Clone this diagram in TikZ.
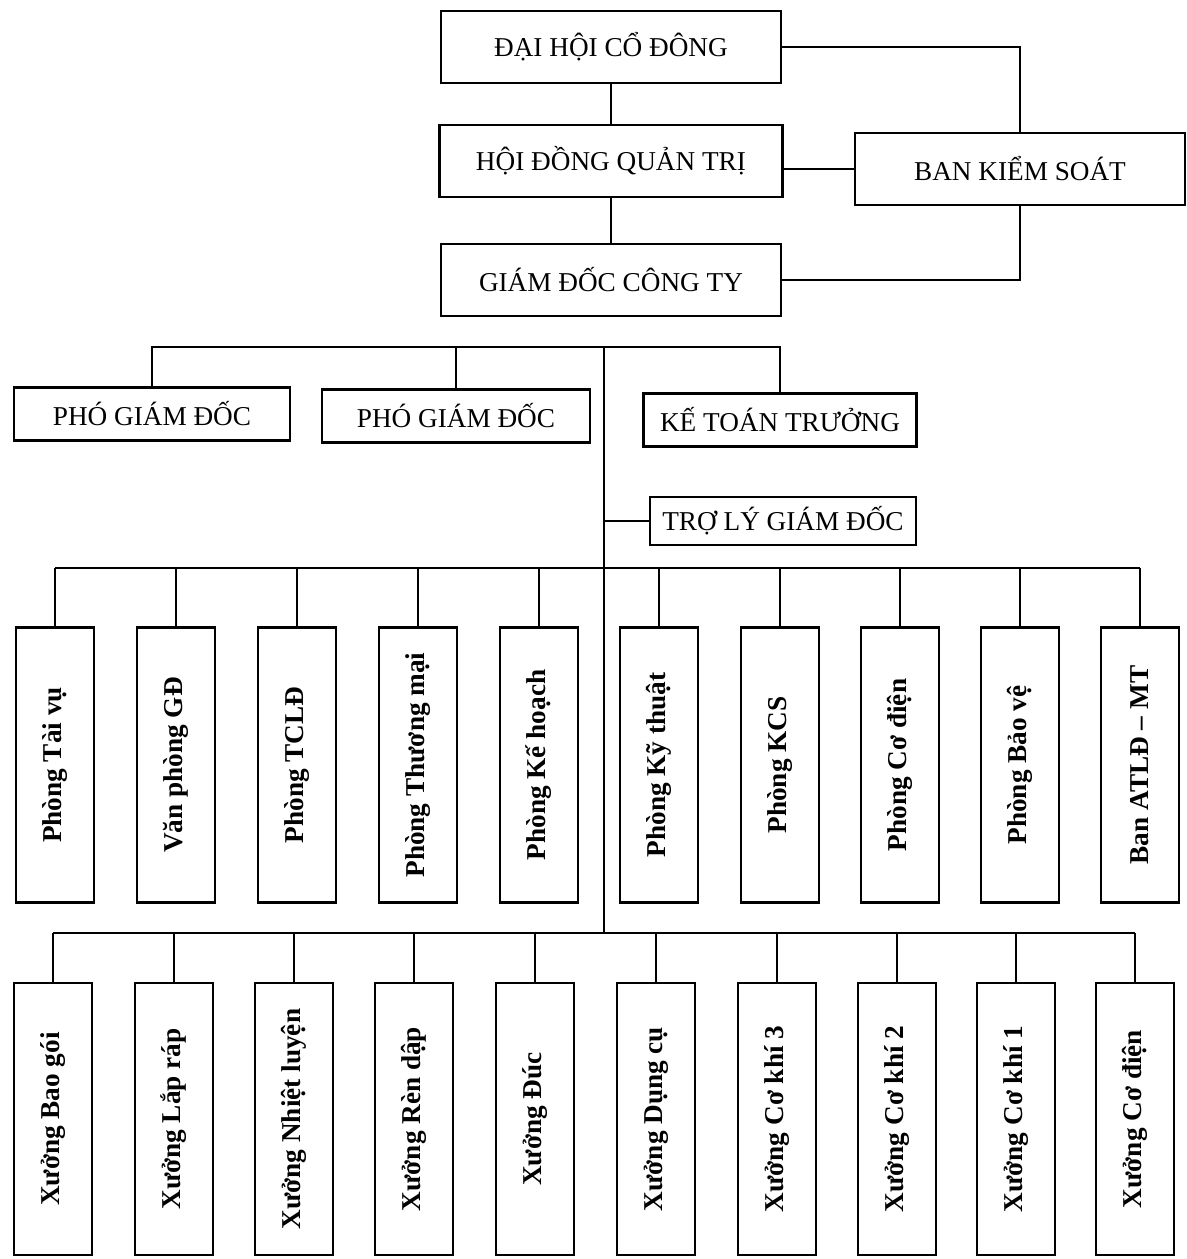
\documentclass[tikz,border=0pt]{standalone}
\usepackage{fontspec}
\setmainfont{Liberation Serif}
\usepackage{graphicx}

\begin{document}
\begin{tikzpicture}[x=0.02cm, y=-0.02cm, line width=1.2pt,
      topbox/.style={draw, line width=1.5pt, minimum width=6.8cm, minimum height=1.44cm,
                     font=\fontsize{15.5}{17}\selectfont},
      midbox/.style={draw, line width=1.4pt, minimum width=5.4cm, minimum height=1.06cm,
                     font=\fontsize{15.5}{17}\selectfont},
      unitbox/.style={draw, minimum width=1.56cm, minimum height=5.5cm,
                      font=\fontsize{15.5}{17}\selectfont\bfseries}]
    \useasboundingbox (0,0) rectangle (1187,1259);

    % top of the company
    \node[topbox] (DHCD) at (611,47) {ĐẠI HỘI CỔ ĐÔNG};
    \node[topbox, minimum width=6.86cm] (HDQT) at (611,161) {HỘI ĐỒNG QUẢN TRỊ};
    \node[topbox] (GDCT) at (611,280) {GIÁM ĐỐC CÔNG TY};
    \node[topbox, minimum width=6.6cm] (BKS) at (1020,169) {BAN KIỂM SOÁT};
    \draw (DHCD.south) -- (HDQT.north);
    \draw (HDQT.south) -- (GDCT.north);
    \draw (DHCD.east) -| (BKS.north);
    \draw (HDQT.east |- BKS.west) -- (BKS.west);
    \draw (BKS.south) |- (GDCT.east);

    % deputies
    \coordinate (bus2) at (604,347);
    \coordinate (bus3) at (604,568);
    \coordinate (bus4) at (604,933);
    \node[midbox, minimum width=5.52cm] (PGD1) at (152,414) {PHÓ GIÁM ĐỐC};
    \node[midbox, minimum width=5.36cm] (PGD2) at (456,416) {PHÓ GIÁM ĐỐC};
    \node[midbox, minimum width=5.46cm] (KTT) at (780,420) {KẾ TOÁN TRƯỞNG};
    \node[midbox, minimum width=5.32cm, minimum height=0.96cm] (TLGD) at (783,521) {TRỢ LÝ GIÁM ĐỐC};
    \draw (PGD1.north) |- (bus2) -| (KTT.north);
    \draw (PGD2.north) -- (PGD2.north |- bus2);
    \draw (bus2) -- (bus4);
    \draw (TLGD.west) -- (TLGD.west -| bus2);

    % offices
    \node[unitbox] (P1) at (55,765) {\rotatebox{90}{Phòng Tài vụ}};
    \node[unitbox] (P2) at (176,765) {\rotatebox{90}{Văn phòng GĐ}};
    \node[unitbox] (P3) at (297,765) {\rotatebox{90}{Phòng TCLĐ}};
    \node[unitbox] (P4) at (418,765) {\rotatebox{90}{Phòng Thương mại}};
    \node[unitbox] (P5) at (539,765) {\rotatebox{90}{Phòng Kế hoạch}};
    \node[unitbox] (P6) at (659,765) {\rotatebox{90}{Phòng Kỹ thuật}};
    \node[unitbox] (P7) at (780,765) {\rotatebox{90}{Phòng KCS}};
    \node[unitbox] (P8) at (900,765) {\rotatebox{90}{Phòng Cơ điện}};
    \node[unitbox] (P9) at (1020,765) {\rotatebox{90}{Phòng Bảo vệ}};
    \node[unitbox] (P10) at (1140,765) {\rotatebox{90}{Ban ATLĐ – MT}};
    \draw (P1.north |- bus3) -- (P10.north |- bus3);
    \draw (P1.north) -- (P1.north |- bus3);
    \draw (P2.north) -- (P2.north |- bus3);
    \draw (P3.north) -- (P3.north |- bus3);
    \draw (P4.north) -- (P4.north |- bus3);
    \draw (P5.north) -- (P5.north |- bus3);
    \draw (P6.north) -- (P6.north |- bus3);
    \draw (P7.north) -- (P7.north |- bus3);
    \draw (P8.north) -- (P8.north |- bus3);
    \draw (P9.north) -- (P9.north |- bus3);
    \draw (P10.north) -- (P10.north |- bus3);

    % workshops
    \node[unitbox, minimum height=5.44cm] (X1) at (53,1119) {\rotatebox{90}{Xưởng Bao gói}};
    \node[unitbox, minimum height=5.44cm] (X2) at (174,1119) {\rotatebox{90}{Xưởng Lắp ráp}};
    \node[unitbox, minimum height=5.44cm] (X3) at (294,1119) {\rotatebox{90}{Xưởng Nhiệt luyện}};
    \node[unitbox, minimum height=5.44cm] (X4) at (414,1119) {\rotatebox{90}{Xưởng Rèn dập}};
    \node[unitbox, minimum height=5.44cm] (X5) at (535,1119) {\rotatebox{90}{Xưởng Đúc}};
    \node[unitbox, minimum height=5.44cm] (X6) at (656,1119) {\rotatebox{90}{Xưởng Dụng cụ}};
    \node[unitbox, minimum height=5.44cm] (X7) at (777,1119) {\rotatebox{90}{Xưởng Cơ khí 3}};
    \node[unitbox, minimum height=5.44cm] (X8) at (897,1119) {\rotatebox{90}{Xưởng Cơ khí 2}};
    \node[unitbox, minimum height=5.44cm] (X9) at (1016,1119) {\rotatebox{90}{Xưởng Cơ khí 1}};
    \node[unitbox, minimum height=5.44cm] (X10) at (1135,1119) {\rotatebox{90}{Xưởng Cơ điện}};
    \draw (X1.north |- bus4) -- (X10.north |- bus4);
    \draw (X1.north) -- (X1.north |- bus4);
    \draw (X2.north) -- (X2.north |- bus4);
    \draw (X3.north) -- (X3.north |- bus4);
    \draw (X4.north) -- (X4.north |- bus4);
    \draw (X5.north) -- (X5.north |- bus4);
    \draw (X6.north) -- (X6.north |- bus4);
    \draw (X7.north) -- (X7.north |- bus4);
    \draw (X8.north) -- (X8.north |- bus4);
    \draw (X9.north) -- (X9.north |- bus4);
    \draw (X10.north) -- (X10.north |- bus4);
  \end{tikzpicture}
\end{document}
